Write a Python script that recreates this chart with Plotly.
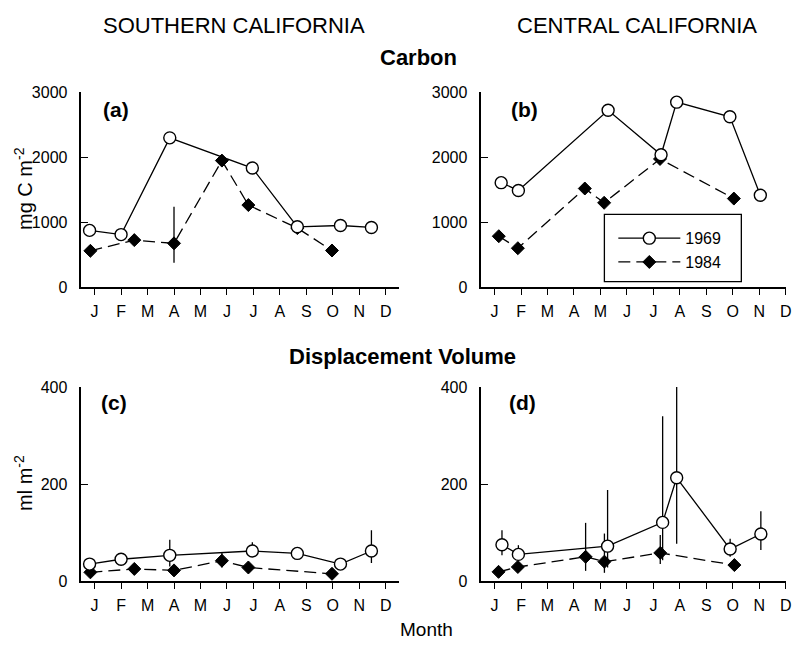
import plotly.graph_objects as go

W, H = 792, 648
FONT = "Liberation Sans, Arial, Helvetica, sans-serif"

months = list(range(1, 13))
month_labels = ["J", "F", "M", "A", "M", "J", "J", "A", "S", "O", "N", "D"]

# (a) Southern California - Carbon (mg C m-2)
a69_x = [0.81, 2.0, 3.84, 6.96, 8.66, 10.29, 11.46]
a69_y = [875, 810, 2300, 1835, 930, 950, 920]
a84_x = [0.84, 2.5, 4.0, 5.81, 6.81, 8.66, 9.97]
a84_y = [560, 725, 675, 1950, 1265, 910, 565]
a84_up = [0, 0, 565, 0, 0, 0, 0]
a84_dn = [0, 0, 300, 0, 0, 0, 0]

# (b) Central California - Carbon
b69_x = [1.25, 1.9, 5.29, 7.29, 7.88, 9.89, 11.04]
b69_y = [1610, 1490, 2725, 2040, 2850, 2625, 1415]
b84_x = [1.16, 1.88, 4.41, 5.14, 7.25, 10.04]
b84_y = [785, 600, 1520, 1300, 1975, 1365]

# (c) Southern California - Displacement volume (ml m-2)
c69_x = [0.81, 2.0, 3.84, 6.96, 8.66, 10.29, 11.46]
c69_y = [35, 45, 53, 62, 57, 35, 62]
c69_up = [0, 0, 32, 18, 13, 0, 43]
c69_dn = [0, 0, 23, 12, 10, 0, 25]
c84_x = [0.84, 2.5, 4.0, 5.81, 6.81, 9.97]
c84_y = [18, 25, 22, 42, 28, 15]
c84_up = [0, 0, 0, 18, 0, 0]
c84_dn = [0, 0, 0, 14, 0, 0]

# (d) Central California - Displacement volume
d69_x = [1.28, 1.9, 5.27, 7.35, 7.88, 9.9, 11.06]
d69_y = [75, 55, 72, 121, 213, 66, 97]
d69_up = [30, 19, 116, 219, 187, 21, 47]
d69_dn = [22, 14, 44, 78, 136, 16, 33]
d84_x = [1.15, 1.88, 4.44, 5.15, 7.26, 10.06]
d84_y = [19, 29, 50, 40, 58, 33]
d84_up = [0, 8, 70, 58, 37, 12]
d84_dn = [0, 8, 29, 23, 23, 8]

carbon_ticks = [0, 1000, 2000, 3000]
volume_ticks = [0, 200, 400]


def fx(p):
    return p / W


def fy(p):
    return 1 - p / H


def err(up, dn):
    return dict(type="data", symmetric=False, array=up, arrayminus=dn,
                width=0, thickness=1.3, color="black")


fig = go.Figure()

panels = [
    ("x", "y", a69_x, a69_y, None, a84_x, a84_y, (a84_up, a84_dn), False),
    ("x2", "y2", b69_x, b69_y, None, b84_x, b84_y, None, True),
    ("x3", "y3", c69_x, c69_y, (c69_up, c69_dn), c84_x, c84_y, (c84_up, c84_dn), False),
    ("x4", "y4", d69_x, d69_y, (d69_up, d69_dn), d84_x, d84_y, (d84_up, d84_dn), False),
]

for xa, ya, x69, y69, e69, x84, y84, e84, leg in panels:
    fig.add_trace(go.Scatter(
        x=x84, y=y84, xaxis=xa, yaxis=ya, mode="lines+markers", name="1984",
        line=dict(color="black", width=1.3, dash="12px,6px"),
        marker=dict(symbol="diamond", size=10, color="black",
                    line=dict(color="black", width=1)),
        error_y=err(*e84) if e84 else None,
        showlegend=leg, legendrank=2, cliponaxis=False))
    fig.add_trace(go.Scatter(
        x=x69, y=y69, xaxis=xa, yaxis=ya, mode="lines+markers", name="1969",
        line=dict(color="black", width=1.3),
        marker=dict(symbol="circle", size=12, color="white",
                    line=dict(color="black", width=1.4)),
        error_y=err(*e69) if e69 else None,
        showlegend=leg, legendrank=1, cliponaxis=False))

# plot-area geometry (pixels)
left_dom = [fx(82), fx(402)]
right_dom = [fx(485), 1.0]
top_dom = [fy(286.7), fy(86.7)]
bot_dom = [fy(588.5), fy(389.3)]
left_range = [0.5, 12.5]
right_range = [0.5, 12.01]


def xaxis_cfg(dom, rng, anchor):
    return dict(domain=dom, range=rng, anchor=anchor, tickmode="array",
                tickvals=months, ticktext=month_labels, ticks="outside",
                ticklen=6, tickwidth=1.3, tickcolor="black", showline=True,
                linecolor="black", linewidth=1.5, showgrid=False,
                zeroline=False, tickfont=dict(size=16, color="black"),
                ticklabelstandoff=3, ticklabeloverflow="allow", fixedrange=True)


def xover_cfg(base, rng, anchor):
    return dict(overlaying=base, anchor=anchor, range=rng, tickmode="array",
                tickvals=months, ticks="inside", ticklen=6, tickwidth=1.3,
                tickcolor="black", showticklabels=False, showline=False,
                showgrid=False, zeroline=False, side="bottom")


def yaxis_cfg(dom, rng, tv, anchor):
    return dict(domain=dom, range=rng, anchor=anchor, tickmode="array",
                tickvals=tv, ticks="inside", ticklen=7, tickwidth=1.3,
                tickcolor="black", showline=True, linecolor="black",
                linewidth=1.5, showgrid=False, zeroline=False,
                tickfont=dict(size=16, color="black"), ticklabelstandoff=9,
                fixedrange=True)


fig.update_layout(
    width=W, height=H,
    margin=dict(l=0, r=0, t=0, b=0),
    paper_bgcolor="white", plot_bgcolor="rgba(0,0,0,0)",
    font=dict(family=FONT, color="black"),
    xaxis=xaxis_cfg(left_dom, left_range, "y"),
    xaxis2=xaxis_cfg(right_dom, right_range, "y2"),
    xaxis3=xaxis_cfg(left_dom, left_range, "y3"),
    xaxis4=xaxis_cfg(right_dom, right_range, "y4"),
    xaxis5=xover_cfg("x", left_range, "y"),
    xaxis6=xover_cfg("x2", right_range, "y2"),
    xaxis7=xover_cfg("x3", left_range, "y3"),
    xaxis8=xover_cfg("x4", right_range, "y4"),
    yaxis=yaxis_cfg(top_dom, [0, 3000], carbon_ticks, "x"),
    yaxis2=yaxis_cfg(top_dom, [0, 3000], carbon_ticks, "x2"),
    yaxis3=yaxis_cfg(bot_dom, [0, 400], volume_ticks, "x3"),
    yaxis4=yaxis_cfg(bot_dom, [0, 400], volume_ticks, "x4"),
    legend=dict(x=fx(618), y=fy(219), xanchor="left", yanchor="top",
                bgcolor="rgba(0,0,0,0)", borderwidth=0,
                font=dict(size=16, color="black"), itemwidth=62,
                tracegroupgap=0),
    showlegend=True,
    shapes=[dict(type="rect", xref="paper", yref="paper",
                 x0=fx(609), x1=fx(747), y0=fy(281), y1=fy(212),
                 line=dict(color="black", width=1.3), fillcolor="white",
                 layer="below")],
)

ann = []


def text(x, y, s, size, bold=False, angle=0):
    ann.append(dict(xref="paper", yref="paper", x=fx(x), y=fy(y), text=s,
                    showarrow=False, xanchor="center", yanchor="middle",
                    textangle=angle,
                    font=dict(size=size, color="black", family=FONT,
                              weight="bold" if bold else "normal")))


text(236, 18, "SOUTHERN CALIFORNIA", 22)
text(642, 18, "CENTRAL CALIFORNIA", 22)
text(422, 51, "Carbon", 22, bold=True)
text(406, 358, "Displacement Volume", 22, bold=True)
text(430, 638, "Month", 19)
text(23, 185, "mg C m<sup>-2</sup>", 20, angle=-90)
text(23, 488, "ml m<sup>-2</sup>", 20, angle=-90)
text(117, 104, "(a)", 21, bold=True)
text(528, 104, "(b)", 21, bold=True)
text(115, 405, "(c)", 21, bold=True)
text(526, 405, "(d)", 21, bold=True)

fig.update_layout(annotations=ann)

fig.write_html("out.html")
